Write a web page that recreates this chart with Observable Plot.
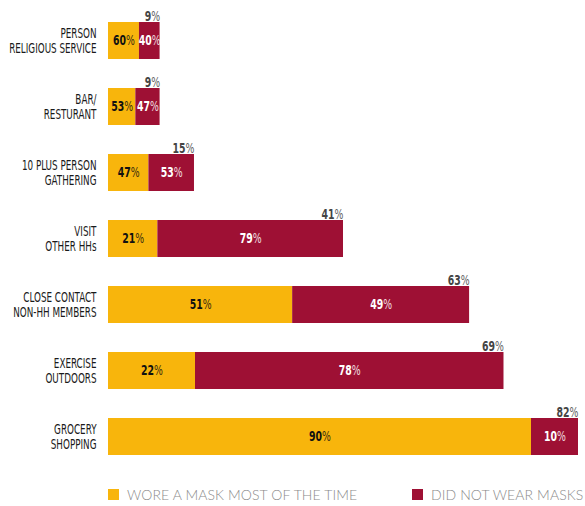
<!DOCTYPE html>
<html>
<head>
<meta charset="utf-8">
<script src="https://cdn.jsdelivr.net/npm/d3@7"></script>
<script src="https://cdn.jsdelivr.net/npm/@observablehq/plot@0.6"></script>
<style>
  html, body { margin: 0; padding: 0; background: #fff; }
  #wrap { position: relative; width: 585px; height: 506px; overflow: hidden; }
  .leg { position: absolute; top: 486px; display: flex; align-items: center; font-family: Lato, "Open Sans", sans-serif; font-weight: 300; font-size: 14px; color: #8a8a8a; letter-spacing: 0.1px; white-space: nowrap; }
  .leg span.sw { display: inline-block; width: 11px; height: 11px; margin-right: 8px; }
</style>
</head>
<body>
<div id="wrap"></div>
<script>
const categories = [
  "PERSON\nRELIGIOUS SERVICE",
  "BAR/\nRESTURANT",
  "10 PLUS PERSON\nGATHERING",
  "VISIT\nOTHER HHs",
  "CLOSE CONTACT\nNON-HH MEMBERS",
  "EXERCISE\nOUTDOORS",
  "GROCERY\nSHOPPING"
];
const totals   = [9, 9, 15, 41, 63, 69, 82];
const masked   = [60, 53, 47, 21, 51, 22, 90];
const unmasked = [40, 47, 53, 79, 49, 78, 10];
const seriesNames = ["WORE A MASK MOST OF THE TIME", "DID NOT WEAR MASKS"];
const colors = ["#F8B50C", "#9E1034"];

const data = categories.map((c, i) => ({
  cat: c, total: totals[i], m: masked[i], u: unmasked[i],
  split: totals[i] * masked[i] / 100
}));

const font = "'Liberation Sans Narrow', 'DejaVu Sans Condensed', 'DejaVu Sans', sans-serif";

const chart = Plot.plot({
  width: 585,
  height: 462,
  marginTop: 0, marginBottom: 0, marginLeft: 108, marginRight: 7,
  style: { fontFamily: font, fontStretch: "condensed", background: "#fff", overflow: "visible" },
  x: { domain: [0, 82], range: [108, 578], axis: null },
  y: { domain: categories, range: [21.5, 454.5], paddingInner: 0.44, paddingOuter: 0, axis: null },
  marks: [
    Plot.barX(data, { x1: 0, x2: "split", y: "cat", fill: colors[0] }),
    Plot.barX(data, { x1: "split", x2: "total", y: "cat", fill: colors[1] }),
    Plot.text(data, { x: 0, y: "cat", text: "cat", textAnchor: "end", dx: -12, fontSize: 14.5, lineHeight: 1.04, fill: "#1a1a1a" }),
    Plot.text(data, { x: d => d.split / 2, y: "cat", text: d => d.m + "%", fill: "#111", fontSize: 13.5, fontWeight: "bold" }),
    Plot.text(data, { x: d => (d.split + d.total) / 2, y: "cat", text: d => d.u + "%", fill: "#fff", fontSize: 13.5, fontWeight: "bold" }),
    Plot.text(data, { x: "total", y: "cat", text: d => d.total + "%", textAnchor: "end", lineAnchor: "bottom", dy: -20.5, fill: "#444", fontSize: 13.5, fontWeight: "bold" })
  ]
});

// condense text horizontally (narrow gothic look) around each anchor
const groups = chart.querySelectorAll('g[aria-label="text"]');
const scales = [0.675, 0.77, 0.77, 0.77];
groups.forEach((g, gi) => {
  const s = scales[gi] || 1;
  g.querySelectorAll("text").forEach(t => {
    const tr = t.getAttribute("transform");
    if (tr) {
      t.setAttribute("transform", tr + ` scale(${s},1)`);
    } else {
      const x = +(t.getAttribute("x") || 0), y = +(t.getAttribute("y") || 0);
      t.removeAttribute("x"); t.removeAttribute("y");
      t.setAttribute("transform", `translate(${x},${y}) scale(${s},1)`);
    }
  });
});

// two-tone percent labels: bold number, lighter "%"
chart.querySelectorAll("text").forEach(t => {
  const s = t.textContent;
  const m = /^(\d+)%$/.exec(s);
  if (!m) return;
  t.textContent = "";
  const ns = "http://www.w3.org/2000/svg";
  const a = document.createElementNS(ns, "tspan");
  a.setAttribute("font-weight", "bold");
  a.textContent = m[1];
  const b = document.createElementNS(ns, "tspan");
  b.setAttribute("font-weight", "normal");
  b.setAttribute("opacity", "0.85");
  b.textContent = "%";
  t.appendChild(a); t.appendChild(b);
});

const wrap = document.getElementById("wrap");
wrap.appendChild(chart);

const legPos = [108, 412];
seriesNames.forEach((name, i) => {
  const d = document.createElement("div");
  d.className = "leg";
  d.style.left = legPos[i] + "px";
  const sw = document.createElement("span");
  sw.className = "sw";
  sw.style.background = colors[i];
  d.appendChild(sw);
  d.appendChild(document.createTextNode(name));
  wrap.appendChild(d);
});
</script>
</body>
</html>
